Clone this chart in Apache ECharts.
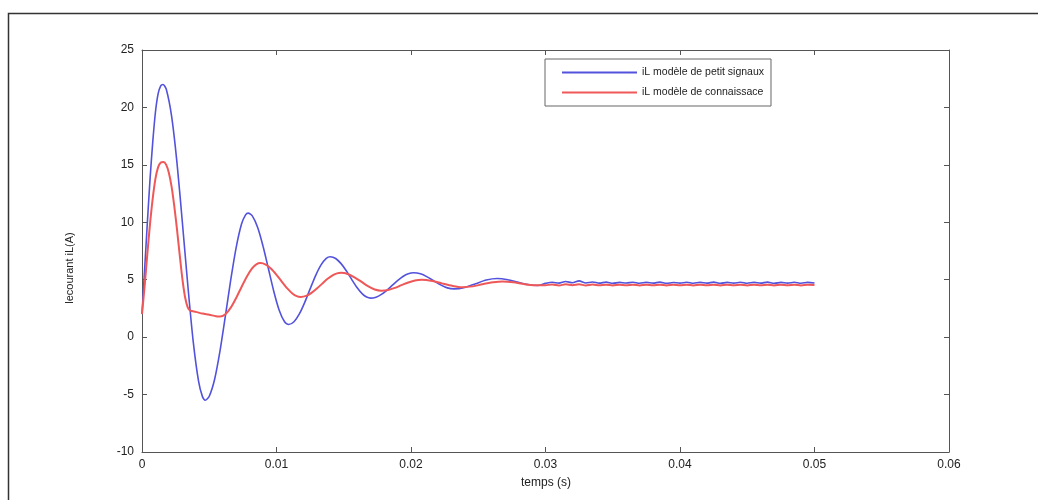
<!DOCTYPE html>
<html>
<head>
<meta charset="utf-8">
<script src="https://cdn.jsdelivr.net/npm/echarts@6/dist/echarts.min.js"></script>
<style>
  html, body { margin: 0; padding: 0; background: #fff; }
  #chart { width: 1038px; height: 500px; }
</style>
</head>
<body>
<div id="chart"></div>
<script>
// Inductor current iL: small-signal model vs. knowledge (large-signal) model
const seriesNames = ['iL modèle de petit signaux', 'iL modèle de connaissace'];
const xTicks = [0, 0.01, 0.02, 0.03, 0.04, 0.05, 0.06];
const yTicks = [-10, -5, 0, 5, 10, 15, 20, 25];

// small-signal model: time (s)
const tSmall = [
  0, 0.0002, 0.0004, 0.0006, 0.0008, 0.001, 0.0012, 0.0014, 0.00156,
  0.0018, 0.0022, 0.0026, 0.003, 0.0034, 0.0038, 0.0042, 0.0045, 0.0047,
  0.005, 0.0054, 0.0058, 0.0062, 0.0066, 0.007, 0.0074, 0.0077, 0.0079,
  0.0082, 0.0086, 0.009, 0.0094, 0.0098, 0.0102, 0.0106, 0.0109,
  0.0113, 0.0117, 0.0121, 0.0125, 0.0129, 0.0133, 0.0137, 0.014,
  0.0144, 0.0148, 0.0152, 0.0156, 0.016, 0.0164, 0.0167, 0.017,
  0.0174, 0.0178, 0.0182, 0.0186, 0.019, 0.0194, 0.0198, 0.0202,
  0.0207, 0.0212, 0.0217, 0.0222, 0.0227, 0.0232,
  0.024, 0.0248, 0.0256, 0.0264,
  0.0272, 0.0279, 0.0287, 0.0294,
  0.03, 0.0305, 0.031, 0.0315, 0.032, 0.0325, 0.033, 0.0335, 0.034, 0.0345,
  0.035, 0.0355, 0.036, 0.0365, 0.037, 0.0375, 0.038, 0.0385, 0.039, 0.0395,
  0.04, 0.0405, 0.041, 0.0415, 0.042, 0.0425, 0.043, 0.0435, 0.044, 0.0445,
  0.045, 0.0455, 0.046, 0.0465, 0.047, 0.0475, 0.048, 0.0485, 0.049, 0.0495, 0.05
];
// small-signal model: current (A)
const iSmall = [
  2.0, 6.0, 10.0, 13.8, 17.0, 19.6, 21.2, 21.9, 22.0,
  21.6, 19.25, 15.2, 10.0, 4.6, -0.3, -3.8, -5.2, -5.5,
  -5.15, -3.67, -1.2, 1.85, 5.0, 7.8, 9.85, 10.65, 10.8,
  10.56, 9.55, 7.92, 5.95, 3.98, 2.35, 1.34, 1.1,
  1.34, 2.02, 3.03, 4.2, 5.34, 6.27, 6.86, 7.0,
  6.85, 6.4, 5.76, 5.01, 4.3, 3.74, 3.49, 3.4,
  3.48, 3.72, 4.08, 4.5, 4.92, 5.28, 5.52, 5.6,
  5.51, 5.25, 4.9, 4.55, 4.29, 4.2,
  4.33, 4.65, 4.97, 5.1,
  5.0, 4.8, 4.58, 4.5,
  4.68, 4.78, 4.70, 4.84, 4.74, 4.90, 4.72, 4.80, 4.70, 4.79,
  4.68, 4.77, 4.71, 4.78, 4.69, 4.77, 4.70, 4.79, 4.68, 4.76,
  4.70, 4.78, 4.69, 4.77, 4.70, 4.79, 4.68, 4.77, 4.70, 4.78,
  4.69, 4.77, 4.70, 4.79, 4.68, 4.77, 4.70, 4.78, 4.69, 4.77, 4.72
];

// knowledge model: time (s)
const tModel = [
  0, 0.0002, 0.0004, 0.0006, 0.0008, 0.001, 0.0012, 0.0014, 0.0016,
  0.0018, 0.002, 0.0022, 0.0024, 0.0026, 0.0028, 0.003, 0.0032, 0.0034, 0.0036,
  0.004, 0.0045, 0.005, 0.0055, 0.0058,
  0.0062, 0.0066, 0.007, 0.0074, 0.0078, 0.0082, 0.0085, 0.0088,
  0.0092, 0.0096, 0.01, 0.0104, 0.0108, 0.0112, 0.0115, 0.0118,
  0.0122, 0.0126, 0.013, 0.0134, 0.0138, 0.0142, 0.0145, 0.0148,
  0.0153, 0.0158, 0.0163, 0.0168, 0.0173, 0.0178,
  0.0183, 0.0188, 0.0193, 0.0198, 0.0203, 0.0208,
  0.0216, 0.0223, 0.0231, 0.0238,
  0.0246, 0.0253, 0.0261, 0.0268,
  0.0276, 0.0284, 0.0292,
  0.03, 0.0305, 0.031, 0.0315, 0.032, 0.0325, 0.033, 0.0335, 0.034, 0.0345,
  0.035, 0.0355, 0.036, 0.0365, 0.037, 0.0375, 0.038, 0.0385, 0.039, 0.0395,
  0.04, 0.0405, 0.041, 0.0415, 0.042, 0.0425, 0.043, 0.0435, 0.044, 0.0445,
  0.045, 0.0455, 0.046, 0.0465, 0.047, 0.0475, 0.048, 0.0485, 0.049, 0.0495, 0.05
];
// knowledge model: current (A)
const iModel = [
  2.0, 4.5, 7.3, 9.9, 12.1, 13.8, 14.8, 15.2, 15.25,
  15.0, 14.3, 13.1, 11.4, 9.4, 7.2, 5.1, 3.5, 2.6, 2.3,
  2.2, 2.05, 1.95, 1.82, 1.8,
  2.0, 2.57, 3.41, 4.37, 5.29, 6.0, 6.34, 6.45,
  6.32, 5.96, 5.43, 4.82, 4.24, 3.78, 3.57, 3.5,
  3.59, 3.85, 4.23, 4.66, 5.08, 5.4, 5.55, 5.6,
  5.5, 5.21, 4.83, 4.44, 4.15, 4.05,
  4.11, 4.29, 4.53, 4.76, 4.94, 5.0,
  4.89, 4.68, 4.46, 4.35,
  4.42, 4.6, 4.77, 4.85,
  4.78, 4.62, 4.52,
  4.52, 4.58, 4.50, 4.60, 4.52, 4.60, 4.50, 4.58, 4.51, 4.57,
  4.50, 4.56, 4.51, 4.57, 4.50, 4.56, 4.51, 4.57, 4.50, 4.56,
  4.51, 4.57, 4.50, 4.56, 4.51, 4.57, 4.50, 4.56, 4.51, 4.57,
  4.50, 4.56, 4.51, 4.57, 4.50, 4.56, 4.51, 4.57, 4.50, 4.56, 4.53
];

const FONT = "'Liberation Sans', Arial, Helvetica, sans-serif";
const AXIS_COLOR = '#555';
const TEXT_COLOR = '#222';

const zip = (t, v) => t.map((x, i) => [x, v[i]]);

const chart = echarts.init(document.getElementById('chart'), null, { renderer: 'canvas' });

const tickStyle = { show: true, inside: true, length: 5, lineStyle: { color: AXIS_COLOR } };
const lineStyleAxis = { show: true, onZero: false, lineStyle: { color: AXIS_COLOR, width: 1 } };

chart.setOption({
  animation: false,
  backgroundColor: '#fff',
  textStyle: { fontFamily: FONT },
  grid: { left: 142, right: 89, top: 50, bottom: 48 },
  legend: {
    orient: 'vertical',
    left: 545,
    top: 59,
    padding: [8, 7, 8, 17],
    itemGap: 9,
    itemWidth: 75,
    itemHeight: 2,
    icon: 'rect',
    borderColor: '#666',
    borderWidth: 1,
    borderRadius: 0,
    backgroundColor: '#fff',
    textStyle: { fontFamily: FONT, fontSize: 10.5, color: TEXT_COLOR },
    data: seriesNames
  },
  xAxis: [
    {
      type: 'value', position: 'bottom',
      min: xTicks[0], max: xTicks[xTicks.length - 1], interval: 0.01,
      axisLine: lineStyleAxis, axisTick: tickStyle, splitLine: { show: false },
      axisLabel: {
        color: TEXT_COLOR, fontSize: 12, fontFamily: FONT, margin: 7,
        formatter: v => (v === 0 ? '0' : String(+v.toFixed(2)))
      }
    },
    {
      type: 'value', position: 'top',
      min: xTicks[0], max: xTicks[xTicks.length - 1], interval: 0.01,
      axisLine: lineStyleAxis, axisTick: tickStyle, splitLine: { show: false },
      axisLabel: { show: false }
    }
  ],
  yAxis: [
    {
      type: 'value', position: 'left',
      min: yTicks[0], max: yTicks[yTicks.length - 1], interval: 5,
      axisLine: lineStyleAxis, axisTick: tickStyle, splitLine: { show: false },
      axisLabel: { color: TEXT_COLOR, fontSize: 12, fontFamily: FONT, margin: 8 }
    },
    {
      type: 'value', position: 'right',
      min: yTicks[0], max: yTicks[yTicks.length - 1], interval: 5,
      axisLine: lineStyleAxis, axisTick: tickStyle, splitLine: { show: false },
      axisLabel: { show: false }
    }
  ],
  series: [
    {
      name: seriesNames[0], type: 'line', xAxisIndex: 0, yAxisIndex: 0,
      data: zip(tSmall, iSmall), showSymbol: false, symbol: 'none', smooth: 0.25,
      lineStyle: { color: '#5252dc', width: 1.6 }, itemStyle: { color: '#5252dc' }
    },
    {
      name: seriesNames[1], type: 'line', xAxisIndex: 0, yAxisIndex: 0,
      data: zip(tModel, iModel), showSymbol: false, symbol: 'none', smooth: 0.25,
      lineStyle: { color: '#ef5858', width: 2 }, itemStyle: { color: '#ef5858' }
    }
  ],
  graphic: [
    {
      type: 'rect', left: 6, top: 11, silent: true, z: 100,
      shape: { width: 1040, height: 500 },
      style: { fill: 'none', stroke: '#333', lineWidth: 1.5 }
    },
    {
      type: 'text', x: 70, y: 268, rotation: Math.PI / 2,
      style: {
        text: 'lecourant iL(A)', fill: TEXT_COLOR, font: '11px ' + FONT,
        textAlign: 'center', textVerticalAlign: 'middle'
      }
    },
    {
      type: 'text', x: 546, y: 483,
      style: {
        text: 'temps (s)', fill: TEXT_COLOR, font: '12px ' + FONT,
        textAlign: 'center', textVerticalAlign: 'middle'
      }
    }
  ]
});
</script>
</body>
</html>
